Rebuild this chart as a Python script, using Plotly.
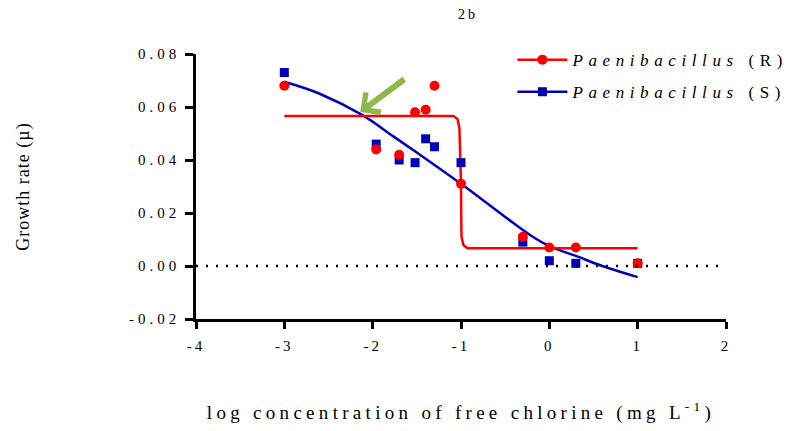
import plotly.graph_objects as go

# ---- data ----
log_conc = [-3.0, -1.96, -1.7, -1.52, -1.4, -1.3, -1.0, -0.3, 0.0, 0.3, 1.0]
growth_R = [0.068, 0.044, 0.042, 0.058, 0.059, 0.068, 0.031, 0.011, 0.007, 0.007, 0.001]
growth_S = [0.073, 0.046, 0.040, 0.039, 0.048, 0.045, 0.039, 0.009, 0.002, 0.001, 0.001]

# fitted curves
fit_R_x = [-3.0, -1.086, -1.04, -1.018, -1.0, -0.995, -0.973, -0.927, 1.0]
fit_R_y = [0.0566, 0.0566, 0.0555, 0.0521, 0.031, 0.0113, 0.0079, 0.0067, 0.0067]
fit_S_x = [-3.0, -2.6, -2.12, -1.77, -1.5, -1.0, -0.5, -0.21, 0.0, 0.3, 0.6, 1.0]
fit_S_y = [0.0695, 0.065, 0.057, 0.049, 0.0428, 0.031, 0.0185, 0.0115, 0.0075, 0.0038, 0.0, -0.0042]

x_ticks = [-4, -3, -2, -1, 0, 1, 2]
x_tick_text = ["-4", "-3", "-2", "-1", "0", "1", "2"]
y_ticks = [-0.02, 0.0, 0.02, 0.04, 0.06, 0.08]
y_tick_text = ["-0.02", "0.00", "0.02", "0.04", "0.06", "0.08"]

series_names = ["<i>Paenibacillus</i> (R)", "<i>Paenibacillus</i> (S)"]
arrow_point = (-2.14, 0.0581)

RED = "#ff0000"
BLUE = "#0000bb"
FONT = "Liberation Serif"

fig = go.Figure()
fig.add_trace(go.Scatter(x=fit_S_x, y=fit_S_y, mode="lines", line=dict(color=BLUE, width=2.5, shape="spline"),
                         showlegend=False, hoverinfo="skip"))
fig.add_trace(go.Scatter(x=fit_R_x, y=fit_R_y, mode="lines", line=dict(color=RED, width=2.5),
                         showlegend=False, hoverinfo="skip"))
fig.add_trace(go.Scatter(x=log_conc, y=growth_S, mode="markers",
                         marker=dict(symbol="square", size=9, color=BLUE), showlegend=False))
fig.add_trace(go.Scatter(x=log_conc, y=growth_R, mode="markers",
                         marker=dict(symbol="circle", size=10, color=RED), showlegend=False))
# legend entries
fig.add_trace(go.Scatter(x=[None], y=[None], mode="lines+markers", name=series_names[0],
                         line=dict(color=RED, width=2.5), marker=dict(symbol="circle", size=10, color=RED),
                         legendgroup="R", legendrank=1))
fig.add_trace(go.Scatter(x=[None], y=[None], mode="lines+markers", name=series_names[1],
                         line=dict(color=BLUE, width=2.5), marker=dict(symbol="square", size=9, color=BLUE),
                         legendgroup="S", legendrank=2))

fig.add_hline(y=0, line=dict(color="black", width=2.5, dash="2px,8px"))

fig.add_annotation(x=arrow_point[0], y=arrow_point[1], ax=47, ay=-35, showarrow=True,
                   arrowhead=4, arrowsize=0.8, arrowwidth=6, arrowcolor="#8db84a", text=" ")

fig.update_layout(
    width=807, height=431,
    margin=dict(l=196, r=81, t=54, b=112),
    paper_bgcolor="white", plot_bgcolor="white",
    font=dict(family=FONT, color="black"),
    title=dict(text="2b", x=0.58, xanchor="center", y=1 - 14 / 431, yanchor="middle",
               font=dict(family=FONT, size=14, color="black")),
    showlegend=True,
    legend=dict(x=0.597, y=1.045, xanchor="left", yanchor="top", bgcolor="rgba(0,0,0,0)",
                font=dict(family=FONT, size=17, color="black"), tracegroupgap=7,
                traceorder="grouped", itemwidth=50),
    xaxis=dict(range=[-4, 2], tickvals=x_ticks, ticktext=x_tick_text, showgrid=False, zeroline=False,
               showline=True, linecolor="black", linewidth=2.5, ticks="outside", ticklen=7, tickwidth=2.5,
               tickcolor="black", tickfont=dict(family=FONT, size=15, color="black"),
               ticklabelstandoff=4,
               title=dict(text="log concentration of free chlorine (mg L<sup>-1</sup>)",
                          font=dict(family=FONT, size=19, color="black"), standoff=53)),
    yaxis=dict(range=[-0.02, 0.08], tickvals=y_ticks, ticktext=y_tick_text, showgrid=False, zeroline=False,
               showline=True, linecolor="black", linewidth=2.5, ticks="outside", ticklen=8, tickwidth=2.5,
               tickcolor="black", tickfont=dict(family=FONT, size=15, color="black"),
               ticklabelstandoff=2,
               title=dict(text="Growth rate (µ)", font=dict(family=FONT, size=18, color="black"), standoff=115)),
)

post = """
document.body.style.margin = '0';
var gd = document.getElementById('{plot_id}');
function ls(sel, v){ gd.querySelectorAll(sel).forEach(function(t){ t.style.letterSpacing = v; }); }
function apply(){
  ls('.xtick text', '3px'); ls('.ytick text', '4px'); ls('.legendtext', '5.6px');
  ls('.g-xtitle text', '4.3px'); ls('.g-ytitle text', '1px'); ls('.gtitle', '3px');
  gd.querySelectorAll('.legend .scrollbox').forEach(function(e){ e.removeAttribute('clip-path'); });
}
apply();
gd.on('plotly_afterplot', apply);
"""

fig.write_html("out.html", post_script=post, config={"displayModeBar": False})
